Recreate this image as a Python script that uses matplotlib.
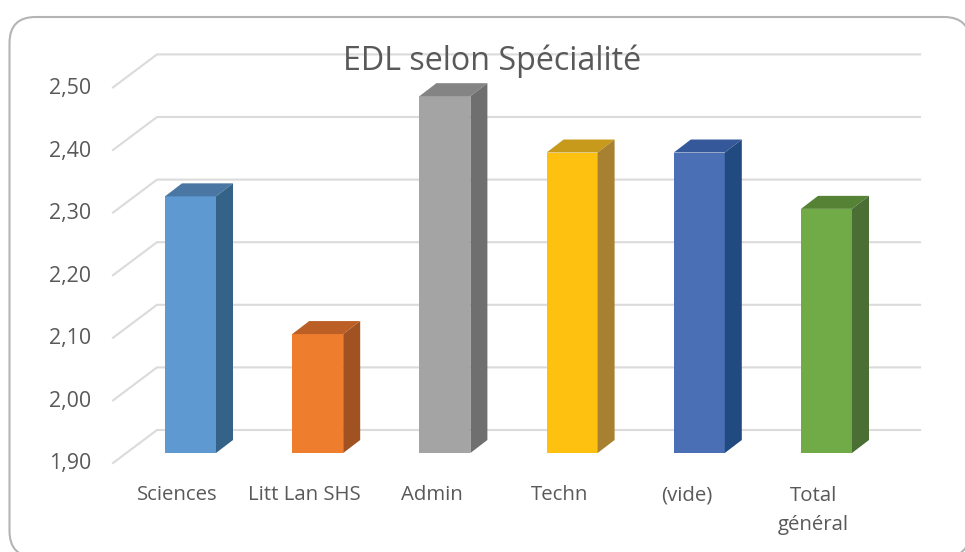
import matplotlib
matplotlib.use("Agg")
import matplotlib.pyplot as plt
from matplotlib.patches import FancyBboxPatch, Polygon

plt.rcParams['font.family'] = ['Open Sans', 'DejaVu Sans']

categories = ["Sciences", "Litt Lan SHS", "Admin", "Techn", "(vide)", "Total\ngénéral"]
values = [2.31, 2.09, 2.47, 2.38, 2.38, 2.29]
ticks = [1.90, 2.00, 2.10, 2.20, 2.30, 2.40, 2.50]
tick_labels = ["1,90", "2,00", "2,10", "2,20", "2,30", "2,40", "2,50"]
front_colors = ["#5E9AD1", "#EF7D2E", "#A4A4A4", "#FEC10F", "#4A6FB5", "#70AB47"]
top_colors = ["#4A76A3", "#BC5F26", "#848484", "#C79A1B", "#35589A", "#568236"]
side_colors = ["#356388", "#A05222", "#6F6F6F", "#A88032", "#204A80", "#4A6E33"]

W, H = 965, 552
fig = plt.figure(figsize=(W / 100, H / 100), dpi=100)
ax = fig.add_axes([0, 0, 1, 1])

# one category = 127.2 px, 0.1 on the value axis = 62.6 px
px_x = 1 / 127.2
px_y = 1 / 626
ax.set_xlim(-190.5 * px_x, (W - 190.5) * px_x)
ax.set_ylim(1.9 - (H - 453) * px_y, 1.9 + 453 * px_y)
ax.axis("off")

# chart frame runs off the right and bottom of the picture
fig.add_artist(FancyBboxPatch((9.5 + 26, H - 557 + 26), 965 - 9.5 + 5 - 52, 557 - 17 - 52,
                              boxstyle="round,pad=26", transform=None,
                              fc="white", ec="#b4b4b4", lw=1.5, zorder=-1))

grid_col = "#dcdada"
for t, lab in zip(ticks, tick_labels):
    x_back = (157 - 190.5) * px_x
    x_front = (113 - 190.5) * px_x
    x_end = (920 - 190.5) * px_x
    y_back = t + 23 * px_y
    y_front = t - 10 * px_y
    ax.plot([x_front, x_back, x_end], [y_front, y_back, y_back], color=grid_col,
            lw=1.5, solid_joinstyle="miter", zorder=1)
    ax.text((91 - 190.5) * px_x, y_front - 1 * px_y, lab, ha="right", va="center",
            fontsize=15.4, color="#595959")

dx = 17 * px_x
dy = 13 * px_y
w = 51 * px_x
xs = list(range(len(values)))
ax.bar(xs, [v - 1.9 for v in values], width=w, bottom=1.9, color=front_colors, zorder=3)
for i, v in enumerate(values):
    l = i - w / 2
    r = i + w / 2
    ax.add_patch(Polygon([(l, v), (r, v), (r + dx, v + dy), (l + dx, v + dy)],
                         fc=top_colors[i], ec="none", zorder=3))
    ax.add_patch(Polygon([(r, 1.9), (r + dx, 1.9 + dy), (r + dx, v + dy), (r, v)],
                         fc=side_colors[i], ec="none", zorder=3))

for i, c in enumerate(categories):
    # the two-line label is centred on its own middle line
    off = 57.5 if "\n" in c else 42
    ax.text(i - 13 * px_x, 1.9 - off * px_y, c, ha="center", va="center",
            fontsize=14.7, color="#595959", linespacing=1.6, multialignment="center")

ax.text((492 - 190.5) * px_x, 1.9 + (453 - 61) * px_y, "EDL selon Spécialité", ha="center", va="center",
        fontsize=23.2, color="#595959", zorder=5)

fig.savefig("out.png", dpi=100)
